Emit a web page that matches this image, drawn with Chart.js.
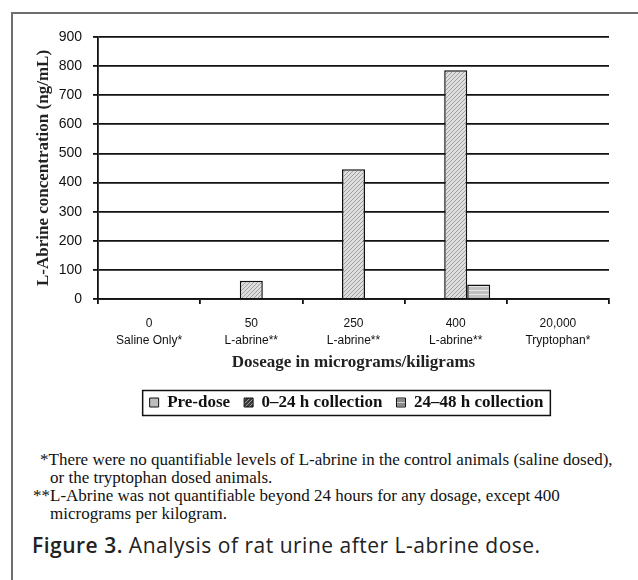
<!DOCTYPE html>
<html>
<head>
<meta charset="utf-8">
<script src="https://cdn.jsdelivr.net/npm/chart.js@4.4.1/dist/chart.umd.min.js"></script>
<style>
  body { margin: 0; background: #fff; }
  #page { position: relative; width: 638px; height: 580px; overflow: hidden; background: #fff; }
  #frame { position: absolute; left: 11px; top: 12px; width: 640px; height: 600px;
           border-left: 2px solid #6e6e6e; border-top: 2px solid #6e6e6e; }
  #wrap { position: absolute; left: 0; top: 0; width: 638px; height: 425px; }
  .note { position: absolute; font-family: "Liberation Serif", serif; font-size: 17px;
          line-height: 18px; color: #111; white-space: nowrap; }
  #caption { position: absolute; left: 32px; top: 532px; font-family: "Open Sans", sans-serif;
             font-size: 21px; line-height: 26px; color: #222; white-space: nowrap; letter-spacing: 0.5px; }
  #caption b { font-weight: 600; }
</style>
</head>
<body>
<div id="page">
  <div id="frame"></div>
  <div id="wrap"><canvas id="chart"></canvas></div>
  <div class="note" style="left:40px; top:451px">*There were no quantifiable levels of L-abrine in the control animals (saline dosed),</div>
  <div class="note" style="left:50px; top:469px">or the tryptophan dosed animals.</div>
  <div class="note" style="left:33px; top:487px">**L-Abrine was not quantifiable beyond 24 hours for any dosage, except 400</div>
  <div class="note" style="left:50px; top:505px">micrograms per kilogram.</div>
  <div id="caption"><b>Figure 3.</b> Analysis of rat urine after L-abrine dose.</div>
</div>
<script>
// doses and labels
var doses = ["0", "50", "250", "400", "20,000"];
var doseNames = ["Saline Only*", "L-abrine**", "L-abrine**", "L-abrine**", "Tryptophan*"];

// L-abrine in ng/mL
var preDose = [0, 0, 0, 0, 0];
var collect0to24 = [0, 63, 446, 786, 0];
var collect24to48 = [0, 0, 0, 50, 0];

var yTicks = [0, 100, 200, 300, 400, 500, 600, 700, 800, 900];

function makePattern(base, line, kind) {
  var c = document.createElement("canvas");
  c.width = 4;
  c.height = 4;
  var g = c.getContext("2d");
  g.fillStyle = base;
  g.fillRect(0, 0, 4, 4);
  g.strokeStyle = line;
  g.lineWidth = 1;
  if (kind == "diag") {
    g.beginPath();
    g.moveTo(0, 4); g.lineTo(4, 0);
    g.moveTo(-1, 1); g.lineTo(1, -1);
    g.moveTo(3, 5); g.lineTo(5, 3);
    g.stroke();
  } else {
    g.fillStyle = line;
    g.fillRect(0, 2, 4, 1);
  }
  return g.createPattern(c, "repeat");
}

var hatchLight = makePattern("#dedede", "#a0a0a0", "diag");
var hatchDark = makePattern("#3c3c3c", "#9a9a9a", "diag");
var stripeLight = makePattern("#c0c0c0", "#e6e6e6", "horiz");
var stripeDark = makePattern("#8a8a8a", "#d0d0d0", "horiz");

var labels = [];
for (var i = 0; i < doses.length; i++) {
  labels.push([doses[i], doseNames[i]]);
}

var legendShift = -7;

// nudge the legend a bit left, then box it
var legendFrame = {
  id: "legendFrame",
  afterUpdate: function (chart) {
    var lg = chart.legend;
    lg.left += legendShift;
    lg.right += legendShift;
    lg.legendHitBoxes.forEach(function (b) { b.left += legendShift; });
  },
  afterDraw: function (chart) {
    var boxes = chart.legend.legendHitBoxes;
    if (!boxes || !boxes.length) return;
    var l = boxes[0].left - 7;
    var r = boxes[boxes.length - 1].left + boxes[boxes.length - 1].width + 7;
    var mid = boxes[0].top + boxes[0].height / 2;
    var ctx = chart.ctx;
    ctx.save();
    ctx.strokeStyle = "#111";
    ctx.lineWidth = 1.5;
    ctx.strokeRect(l, mid - 12, r - l, 25);
    ctx.restore();
  }
};

Chart.defaults.color = "#000";

var ctx = document.getElementById("chart");
var myChart = new Chart(ctx, {
  type: "bar",
  data: {
    labels: labels,
    datasets: [
      { label: "Pre-dose", data: preDose, backgroundColor: "#c8c8c8", borderColor: "#111", borderWidth: 1.5 },
      { label: "0\u201324 h collection", data: collect0to24, backgroundColor: hatchLight, borderColor: "#111", borderWidth: 1.5 },
      { label: "24\u201348 h collection", data: collect24to48, backgroundColor: stripeLight, borderColor: "#111", borderWidth: 1.5 }
    ]
  },
  options: {
    responsive: true,
    maintainAspectRatio: false,
    animation: false,
    categoryPercentage: 0.675,
    barPercentage: 1.0,
    layout: { padding: { top: 37, right: 29, left: 0, bottom: 4 } },
    plugins: {
      tooltip: { enabled: false },
      legend: {
        position: "bottom",
        fullSize: false,
        labels: {
          boxWidth: 9,
          boxHeight: 9,
          padding: 14,
          color: "#111",
          font: { family: "Liberation Serif", size: 17, weight: "bold" },
          generateLabels: function (chart) {
            var items = Chart.defaults.plugins.legend.labels.generateLabels(chart);
            var fills = ["#bdbdbd", hatchDark, stripeDark];
            items.forEach(function (it, k) {
              it.fillStyle = fills[k];
              it.strokeStyle = "#111";
              it.lineWidth = 1;
            });
            return items;
          }
        }
      }
    },
    scales: {
      x: {
        afterFit: function (s) { s.height = 81; },
        grid: { offset: true, drawOnChartArea: false, drawTicks: true, tickLength: 5, color: "#111", lineWidth: 1.8 },
        border: { color: "#111", width: 1.8 },
        ticks: { padding: 11, color: "#111", font: { family: "Liberation Sans", size: 12, lineHeight: 1.45 } },
        title: {
          display: true,
          text: "Doseage in micrograms/kiligrams",
          color: "#222",
          padding: { top: 0, bottom: 7 },
          font: { family: "Liberation Serif", size: 17, weight: "bold" }
        }
      },
      y: {
        min: 0,
        max: 900,
        afterFit: function (s) { s.width = 98; },
        afterBuildTicks: function (s) { s.ticks = yTicks.map(function (v) { return { value: v }; }); },
        grid: { color: "#111", lineWidth: 1.8, tickLength: 5 },
        border: { color: "#111", width: 1.8 },
        ticks: { padding: 11, color: "#111", font: { family: "Liberation Sans", size: 14 } },
        title: {
          display: true,
          text: "L-Abrine concentration (ng/mL)",
          color: "#222",
          padding: { top: 33, bottom: 0 },
          font: { family: "Liberation Serif", size: 17, weight: "bold" }
        }
      }
    }
  },
  plugins: [legendFrame]
});
</script>
</body>
</html>
